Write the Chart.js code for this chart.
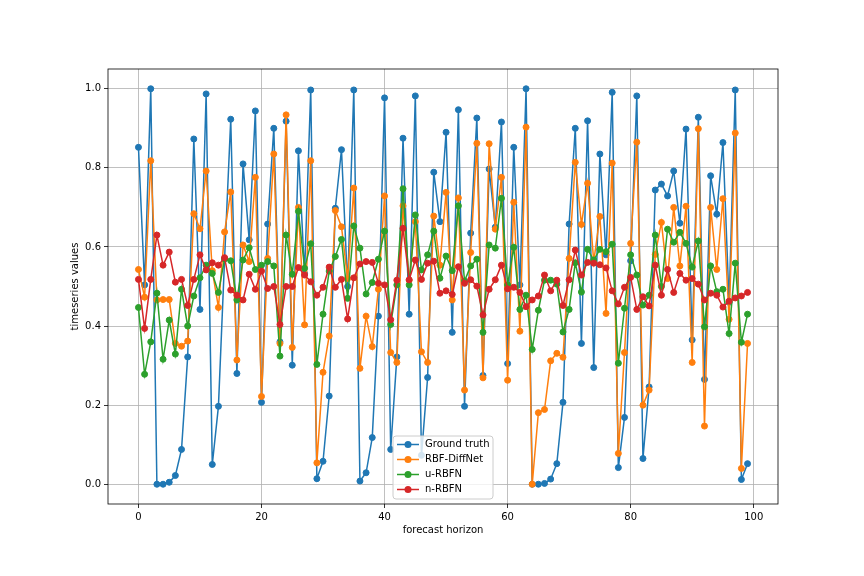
<!DOCTYPE html>
<html>
<head>
<meta charset="utf-8">
<title>forecast horizon</title>
<script src="https://cdn.jsdelivr.net/npm/chart.js@4.4.1/dist/chart.umd.min.js"></script>
<style>
    html, body { margin: 0; padding: 0; background: #ffffff; }
    canvas { display: block; }
</style>
</head>
<body>
<canvas id="chart" width="864" height="576"></canvas>
<script>
// values, index = forecast horizon step
var groundTruth = [
    0.852, 0.504, 1.000, 0.000, 0.000, 0.005, 0.022, 0.088, 0.322, 0.873,
    0.442, 0.987, 0.050, 0.197, 0.570, 0.923, 0.280, 0.810, 0.618, 0.944,
    0.207, 0.658, 0.900, 0.360, 0.918, 0.301, 0.843, 0.533, 0.997, 0.014,
    0.058, 0.223, 0.698, 0.846, 0.500, 0.997, 0.008, 0.029, 0.118, 0.425,
    0.977, 0.088, 0.322, 0.875, 0.430, 0.982, 0.073, 0.270, 0.789, 0.664,
    0.890, 0.384, 0.947, 0.197, 0.635, 0.926, 0.275, 0.797, 0.650, 0.916,
    0.305, 0.852, 0.504, 1.000, 0.000, 0.000, 0.002, 0.013, 0.052, 0.207,
    0.658, 0.900, 0.356, 0.919, 0.295, 0.835, 0.580, 0.991, 0.042, 0.169,
    0.565, 0.982, 0.065, 0.246, 0.744, 0.759, 0.729, 0.792, 0.660, 0.898,
    0.365, 0.928, 0.265, 0.780, 0.683, 0.864, 0.460, 0.997, 0.012, 0.052
];
var rbfDiffNet = [
    0.543, 0.473, 0.818, 0.466, 0.467, 0.467, 0.356, 0.349, 0.362, 0.684,
    0.646, 0.792, 0.540, 0.447, 0.638, 0.739, 0.314, 0.605, 0.563, 0.776,
    0.222, 0.571, 0.835, 0.356, 0.934, 0.346, 0.700, 0.403, 0.818, 0.054,
    0.283, 0.375, 0.692, 0.651, 0.520, 0.749, 0.293, 0.425, 0.348, 0.493,
    0.729, 0.333, 0.308, 0.704, 0.516, 0.664, 0.335, 0.308, 0.678, 0.554,
    0.738, 0.466, 0.724, 0.238, 0.586, 0.862, 0.269, 0.861, 0.645, 0.776,
    0.263, 0.713, 0.387, 0.903, 0.000, 0.181, 0.189, 0.312, 0.331, 0.321,
    0.571, 0.814, 0.657, 0.761, 0.563, 0.677, 0.432, 0.812, 0.078, 0.333,
    0.609, 0.865, 0.200, 0.238, 0.581, 0.662, 0.520, 0.700, 0.552, 0.703,
    0.308, 0.899, 0.147, 0.700, 0.543, 0.722, 0.417, 0.888, 0.040, 0.356
];
var uRBFN = [
    0.447, 0.278, 0.360, 0.483, 0.316, 0.415, 0.329, 0.493, 0.400, 0.476,
    0.522, 0.554, 0.533, 0.485, 0.570, 0.565, 0.466, 0.567, 0.598, 0.543,
    0.554, 0.563, 0.552, 0.324, 0.630, 0.531, 0.690, 0.546, 0.608, 0.303,
    0.430, 0.539, 0.576, 0.619, 0.470, 0.653, 0.597, 0.481, 0.510, 0.569,
    0.640, 0.404, 0.504, 0.747, 0.504, 0.681, 0.542, 0.580, 0.640, 0.521,
    0.577, 0.540, 0.704, 0.514, 0.552, 0.569, 0.384, 0.605, 0.597, 0.723,
    0.504, 0.599, 0.442, 0.478, 0.341, 0.440, 0.516, 0.516, 0.506, 0.385,
    0.442, 0.560, 0.486, 0.594, 0.567, 0.594, 0.588, 0.607, 0.306, 0.445,
    0.580, 0.529, 0.453, 0.478, 0.630, 0.500, 0.645, 0.612, 0.637, 0.609,
    0.549, 0.615, 0.398, 0.552, 0.487, 0.493, 0.381, 0.559, 0.359, 0.430
];
var nRBFN = [
    0.518, 0.394, 0.518, 0.630, 0.554, 0.587, 0.511, 0.518, 0.452, 0.518,
    0.580, 0.542, 0.560, 0.554, 0.573, 0.491, 0.478, 0.466, 0.531, 0.493,
    0.539, 0.495, 0.500, 0.404, 0.500, 0.500, 0.548, 0.529, 0.512, 0.478,
    0.498, 0.549, 0.498, 0.518, 0.418, 0.522, 0.557, 0.563, 0.561, 0.508,
    0.504, 0.416, 0.516, 0.647, 0.517, 0.567, 0.518, 0.559, 0.564, 0.483,
    0.489, 0.480, 0.550, 0.508, 0.517, 0.501, 0.428, 0.493, 0.517, 0.554,
    0.494, 0.498, 0.485, 0.449, 0.466, 0.476, 0.529, 0.489, 0.516, 0.452,
    0.517, 0.592, 0.529, 0.561, 0.559, 0.555, 0.547, 0.489, 0.456, 0.498,
    0.523, 0.442, 0.474, 0.451, 0.554, 0.478, 0.543, 0.485, 0.533, 0.516,
    0.520, 0.506, 0.466, 0.483, 0.478, 0.448, 0.463, 0.471, 0.476, 0.485
];

var seriesNames = ['Ground truth', 'RBF-DiffNet', 'u-RBFN', 'n-RBFN'];
var seriesColors = ['#1f77b4', '#ff7f0e', '#2ca02c', '#d62728'];
var xTicks = [0, 20, 40, 60, 80, 100];
var yTicks = [0.0, 0.2, 0.4, 0.6, 0.8, 1.0];

var FONT = '"DejaVu Sans", sans-serif';

function toPoints(values) {
    var pts = [];
    for (var i = 0; i < values.length; i++) {
        pts.push({x: i, y: values[i]});
    }
    return pts;
}

var allSeries = [groundTruth, rbfDiffNet, uRBFN, nRBFN];
var datasets = [];
for (var s = 0; s < allSeries.length; s++) {
    datasets.push({
        label: seriesNames[s],
        data: toPoints(allSeries[s]),
        borderColor: seriesColors[s],
        backgroundColor: seriesColors[s],
        pointBackgroundColor: seriesColors[s],
        pointBorderColor: seriesColors[s],
        borderWidth: 1.5,
        pointRadius: 3,
        pointBorderWidth: 1,
        pointHoverRadius: 3,
        tension: 0,
        fill: false,
        // later series drawn on top, like matplotlib
        order: allSeries.length - s
    });
}

function fixedTicks(values) {
    return function (scale) {
        scale.ticks = values.map(function (v) { return {value: v}; });
    };
}

// frame, axis titles and the in-plot legend
var decorations = {
    id: 'decorations',
    afterDatasetsDraw: function (chart) {
        var ctx = chart.ctx;
        var a = chart.chartArea;
        ctx.save();

        ctx.strokeStyle = '#000000';
        ctx.lineWidth = 0.8;
        ctx.strokeRect(a.left, a.top, a.right - a.left, a.bottom - a.top);

        ctx.fillStyle = '#000000';
        ctx.font = '10px ' + FONT;
        ctx.textAlign = 'center';
        ctx.textBaseline = 'middle';
        ctx.fillText('forecast horizon', (a.left + a.right) / 2, 530);

        ctx.save();
        ctx.translate(75, (a.top + a.bottom) / 2);
        ctx.rotate(-Math.PI / 2);
        ctx.fillText('timeseries values', 0, 0);
        ctx.restore();

        // legend box
        var lx = 393, ly = 436, lw = 100, lh = 63, r = 3;
        ctx.beginPath();
        ctx.moveTo(lx + r, ly);
        ctx.lineTo(lx + lw - r, ly);
        ctx.arcTo(lx + lw, ly, lx + lw, ly + r, r);
        ctx.lineTo(lx + lw, ly + lh - r);
        ctx.arcTo(lx + lw, ly + lh, lx + lw - r, ly + lh, r);
        ctx.lineTo(lx + r, ly + lh);
        ctx.arcTo(lx, ly + lh, lx, ly + lh - r, r);
        ctx.lineTo(lx, ly + r);
        ctx.arcTo(lx, ly, lx + r, ly, r);
        ctx.closePath();
        ctx.fillStyle = 'rgba(255,255,255,0.8)';
        ctx.fill();
        ctx.strokeStyle = '#cccccc';
        ctx.lineWidth = 1;
        ctx.stroke();

        ctx.textAlign = 'left';
        for (var i = 0; i < seriesNames.length; i++) {
            var cy = 444.5 + i * 15;
            ctx.strokeStyle = seriesColors[i];
            ctx.lineWidth = 1.5;
            ctx.beginPath();
            ctx.moveTo(397, cy);
            ctx.lineTo(419, cy);
            ctx.stroke();
            ctx.fillStyle = seriesColors[i];
            ctx.beginPath();
            ctx.arc(408, cy, 3.5, 0, Math.PI * 2);
            ctx.fill();
            ctx.fillStyle = '#000000';
            ctx.fillText(seriesNames[i], 425, cy);
        }

        ctx.restore();
    }
};

new Chart(document.getElementById('chart'), {
    type: 'line',
    data: {datasets: datasets},
    plugins: [decorations],
    options: {
        responsive: false,
        animation: false,
        devicePixelRatio: 1,
        layout: {padding: {left: 0, top: 69, right: 86, bottom: 0}},
        plugins: {
            legend: {display: false},
            tooltip: {enabled: false},
            title: {display: false}
        },
        scales: {
            x: {
                type: 'linear',
                min: -4.95,
                max: 103.95,
                afterBuildTicks: fixedTicks(xTicks),
                afterFit: function (scale) { scale.height = 72; },
                border: {display: false},
                grid: {
                    color: '#b0b0b0',
                    lineWidth: 0.8,
                    tickColor: '#000000',
                    tickLength: 4,
                    drawTicks: true
                },
                ticks: {
                    color: '#000000',
                    font: {family: FONT, size: 10},
                    padding: 3,
                    maxRotation: 0,
                    callback: function (v) { return String(v); }
                }
            },
            y: {
                type: 'linear',
                min: -0.05,
                max: 1.05,
                afterBuildTicks: fixedTicks(yTicks),
                afterFit: function (scale) { scale.width = 108; },
                border: {display: false},
                grid: {
                    color: '#b0b0b0',
                    lineWidth: 0.8,
                    tickColor: '#000000',
                    tickLength: 4,
                    drawTicks: true
                },
                ticks: {
                    color: '#000000',
                    font: {family: FONT, size: 10},
                    padding: 3,
                    callback: function (v) { return v.toFixed(1); }
                }
            }
        }
    }
});
</script>
</body>
</html>
